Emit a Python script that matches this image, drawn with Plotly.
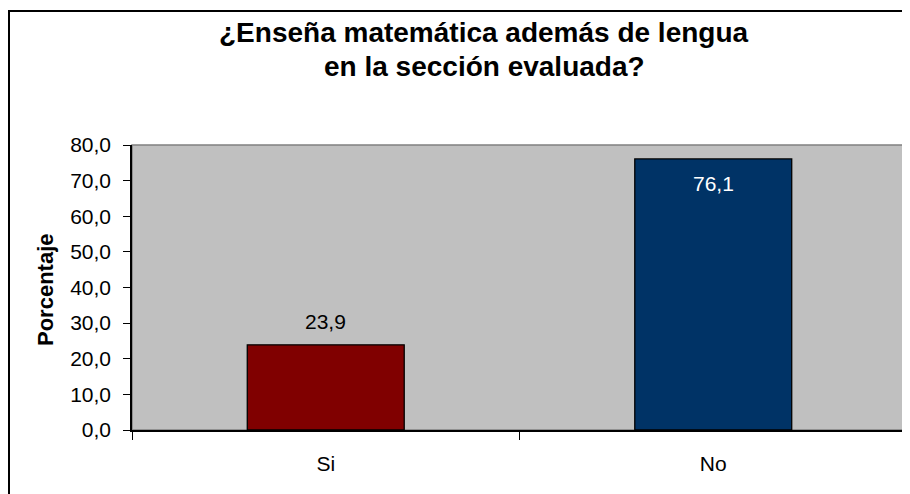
"""Bar chart: ¿Enseña matemática además de lengua en la sección evaluada?"""
import plotly.graph_objects as go

categories = ["Si", "No"]
values = [23.9, 76.1]
bar_colors = ["#800000", "#003366"]
label_colors = ["black", "white"]
label_shifts = [23, -25]

title_lines = ["¿Enseña matemática además de lengua", "en la sección evaluada?"]

# the page body has an 8px margin, so the figure is drawn 8px smaller and the
# layout numbers below are given in screenshot coordinates minus that offset
OFF = 8
W, H = 910 - OFF, 494 - OFF
L, R, T, B = 132 - OFF, 3, 145 - OFF, 64
pw, ph = W - L - R, H - T - B

FONT = "Liberation Sans, Arial, sans-serif"


def px(x):
    """screenshot x -> paper x"""
    return (x - OFF - L) / pw


def py(y):
    """screenshot y -> paper y"""
    return 1 - (y - OFF - T) / ph


def fmt(v):
    return f"{v:.1f}".replace(".", ",")


fig = go.Figure()

fig.add_trace(
    go.Bar(
        x=categories,
        y=values,
        marker=dict(color=bar_colors, line=dict(color="black", width=1.3)),
        width=0.405,
        hoverinfo="x+y",
    )
)

# data labels
for cat, val, col, shift in zip(categories, values, label_colors, label_shifts):
    fig.add_annotation(
        x=cat, y=val, text=fmt(val), showarrow=False, yshift=shift,
        font=dict(family=FONT, size=21, color=col),
    )

# title, two lines placed separately to get the wider line spacing
for i, line in enumerate(title_lines):
    fig.add_annotation(
        xref="paper", yref="paper",
        x=px(484), y=py(32 + 34 * i),
        text=f"<b>{line}</b>", showarrow=False,
        xanchor="center", yanchor="middle",
        font=dict(family=FONT, size=28, color="black"),
    )

# y-axis title
fig.add_annotation(
    xref="paper", yref="paper",
    x=px(45), y=py(290), textangle=-90,
    text="<b>Porcentaje</b>", showarrow=False,
    xanchor="center", yanchor="middle",
    font=dict(family=FONT, size=22, color="black"),
)

# outer chart frame (cut off at the right and bottom)
fig.add_shape(
    type="rect", xref="paper", yref="paper", layer="above",
    x0=px(9), x1=px(980),
    y0=py(560), y1=py(11),
    line=dict(color="black", width=2),
)
# plot-area frame
fig.add_shape(
    type="rect", xref="paper", yref="paper", layer="below",
    x0=0, x1=1, y0=0, y1=1,
    line=dict(color="#808080", width=1.5),
)

fig.update_layout(
    width=W, height=H,
    margin=dict(l=L, r=R, t=T, b=B),
    paper_bgcolor="white",
    plot_bgcolor="#C0C0C0",
    showlegend=False,
    separators=",.",
    font=dict(family=FONT, size=21, color="black"),
)

fig.update_xaxes(
    type="category",
    range=[-0.5, 1.5],
    tickson="boundaries",
    ticks="outside", ticklen=8, tickwidth=1.3, tickcolor="black",
    showline=True, linecolor="black", linewidth=1.5,
    showgrid=False, zeroline=False,
    ticklabelstandoff=14,
    tickfont=dict(family=FONT, size=21),
)
fig.update_yaxes(
    range=[0, 80], dtick=10, tickformat=".1f",
    ticks="outside", ticklen=7, tickwidth=1.3, tickcolor="black",
    showline=True, linecolor="black", linewidth=1.5,
    showgrid=False, zeroline=False,
    ticklabelstandoff=8,
    tickfont=dict(family=FONT, size=21),
)

fig.write_html("out.html")
